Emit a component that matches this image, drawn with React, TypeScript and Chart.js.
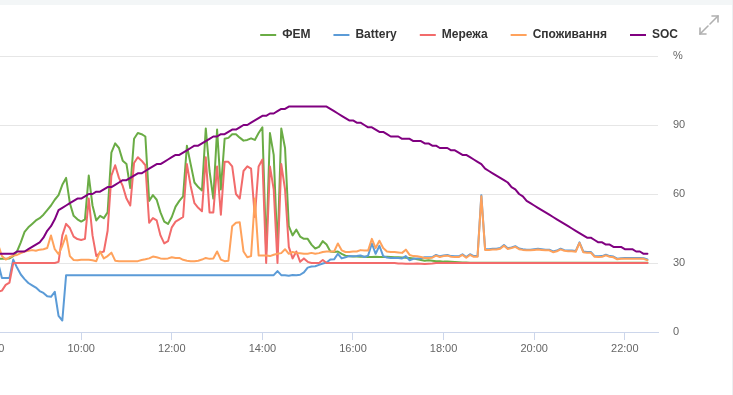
import React, { useEffect, useRef } from 'react';
import { Chart, registerables } from 'chart.js';

Chart.register(...registerables);

// Time axis: minutes after midnight. Samples every 5 min starting 08:10.
const START_MIN = 490;
const STEP_MIN = 5;
const X_MIN = 360;
const X_MAX = 1364;
const X_TICKS = [480, 600, 720, 840, 960, 1080, 1200, 1320];
const Y_MAX = 120;
const Y_STEP = 30;

const PV = [
  31.8, 31.8, 31.8, 32, 33, 35, 39, 43.5, 45.5, 47,
  48.5, 49.5, 51, 53, 55, 57.5, 59.5, 64, 67, 56,
  50.5, 49, 48, 49, 68, 55, 48.5, 50.5, 49.5, 52,
  78, 82, 80, 74.5, 73, 62.6, 84, 86.5, 86, 85,
  57, 59.5, 57.5, 52, 48, 47, 50, 54.5, 57, 59,
  81, 73, 65, 63, 61.5, 88.5, 70, 58, 88, 62,
  84, 84.4, 86, 86, 84.5, 83.2, 83.5, 84.2, 83.5, 86.5,
  89, 35, 86.5, 77, 35, 88.5, 80, 46, 42, 44.5,
  41.5, 40.5, 40.5, 38, 36.3, 37, 39.5, 38, 35, 34.8,
  35, 34, 33.2, 32.9, 32.8, 32.8, 32.7, 32.7, 32.6, 32.6,
  32.7, 32.6, 32.6, 32.7, 32.6, 32.5, 32.5, 32.4, 32.3, 32.2,
  32, 31.6, 31.3, 31, 31.2, 31, 30.8, 30.8, 30.6, 30.6,
  30.5, 30.4, 30.3, 30.2, 30.2, 30.1, 30.1, 30.1, 30.1, 30.1,
  30.1, 30.1, 30.1, 30.1, 30.1, 30.1, 30.1, 30.1, 30.1, 30.1,
  30.1, 30.1, 30.1, 30.1, 30.1, 30.1, 30.1, 30.1, 30.1, 30.1,
  30.1, 30.1, 30.1, 30.1, 30.1, 30.1, 30.1, 30.1, 30.1, 30.1,
  30.1, 30.1, 30.1, 30.1, 30.1, 30.1, 30.1, 30.1, 30.1, 30.1,
  30.1, 30.1, 30.1,
];

const BATTERY = [
  30, 23.5, 23.5, 23.5, 31.5, 28, 25, 23, 21.3, 20.3,
  19.3, 17.8, 17, 15.5, 15.3, 17.5, 7, 5, 24.7, 24.7,
  24.7, 24.7, 24.7, 24.7, 24.7, 24.7, 24.7, 24.7, 24.7, 24.7,
  24.7, 24.7, 24.7, 24.7, 24.7, 24.7, 24.7, 24.7, 24.7, 24.7,
  24.7, 24.7, 24.7, 24.7, 24.7, 24.7, 24.7, 24.7, 24.7, 24.7,
  24.7, 24.7, 24.7, 24.7, 24.7, 24.7, 24.7, 24.7, 24.7, 24.7,
  24.7, 24.7, 24.7, 24.7, 24.7, 24.7, 24.7, 24.7, 24.7, 24.7,
  24.7, 24.7, 24.7, 24.7, 26.5, 24.7, 24.7, 24.5, 24.8, 24.7,
  24.9, 25.9, 28, 28.5, 28.6, 29.2, 29.8, 30.2, 31.5, 31.6,
  34, 32, 32.5, 33, 32.9, 33, 33.3, 32.6, 33.2, 38.5,
  34, 37.5, 33, 32.4, 32.2, 32.2, 32.2, 32, 33, 31.2,
  31.8, 32, 32, 32.5, 32.5, 32.6, 33.5, 32.9, 33.3, 33.5,
  33, 32.9, 32.9, 33.8, 32.6, 33.8, 33, 33, 59.5, 36,
  36, 36.2, 36.2, 36.5, 37.8, 36.4, 36.8, 37.3, 36.3, 36,
  35.8, 35.8, 36, 36.2, 36, 35.8, 35.8, 35, 35.4, 36.2,
  35.6, 35.4, 35.4, 35.2, 39, 35, 34.8, 34.8, 33, 32.9,
  33, 33.6, 33, 32.8, 31.9, 32.1, 32.2, 32.2, 32.2, 32.2,
  32.2, 32.1, 31.5,
];

const GRID = [
  17.5, 18, 20.5, 21.5, 30, 30, 30, 30, 30, 30,
  30, 30, 30, 30, 30, 30, 30.5, 42, 47, 45.2,
  41.5, 40.4, 40, 40.5, 58, 42, 33, 34.5, 35, 44,
  68, 72.5, 67, 63.5, 58, 55, 73.5, 76, 74.5, 72.5,
  47.5, 49.5, 48.5, 42, 38.5, 39.5, 45.5, 48, 49, 50,
  73, 63.5, 56, 54, 52.5, 76, 52, 52, 72, 51,
  74, 74, 72, 60, 58, 70, 72, 71, 50, 72,
  75, 30, 72, 62, 30, 73, 62, 37, 32, 35,
  30.5, 32, 30.5, 30, 30, 30, 31.3, 30, 30, 30,
  30, 30, 30, 30, 30, 30, 30, 30, 30, 30,
  30, 30, 30, 30, 30, 30, 29.8, 29.8, 29.7, 29.7,
  29.7, 29.8, 29.7, 29.6, 29.7, 29.8, 30, 30, 30, 30,
  30, 30, 30, 30, 30, 30, 30, 30, 30, 30,
  30, 30, 30, 30, 30, 30, 30, 30, 30, 30,
  30, 30, 30, 30, 30, 30, 30, 30, 30, 30,
  30, 30, 30, 30, 30, 30, 30, 30, 30, 30,
  30, 30, 30, 30, 30, 30, 30, 30, 30, 30,
  30, 30, 30,
];

const LOAD = [
  38, 33, 31.5, 32.5, 33.2, 33.5, 34.3, 35, 35.3, 35.6,
  35.3, 35.8, 36, 36.5, 42, 36, 33.8, 37.5, 42, 33,
  31.3, 31.2, 31.4, 31.4, 31.4, 31.2, 30.8, 35, 32, 33,
  34.5, 31, 30.8, 30.8, 30.8, 30.8, 30.8, 30.8, 31.3, 31.6,
  32, 32.8, 32.5, 32, 31.8, 32, 32.5, 32.2, 32.2, 31.4,
  31, 30.8, 30.8, 31, 31.5, 32.2, 31.8, 32, 35, 31.5,
  30.8, 31, 46, 47.5, 47.7, 35, 32.5, 33, 58, 33.3,
  33.3, 33.3, 33, 33.6, 34, 34.3, 36, 34, 34.8, 34.4,
  34.2, 34, 34, 34.4, 34, 34.3, 34.8, 35, 35, 35,
  38.5, 35.5, 34.8, 34.8, 35, 35, 35.6, 35.4, 35.4, 40.5,
  36.5, 39.7, 36.5, 35, 34.8, 34.8, 34.6, 34.4, 35.8, 33.5,
  33, 32.9, 32.6, 32.2, 32.2, 32.3, 33.2, 32.6, 33, 33.2,
  32.7, 32.6, 32.6, 33.5, 32.3, 33.5, 32.7, 32.7, 59, 35.7,
  35.7, 35.9, 35.9, 36.2, 37.5, 36.1, 36.5, 37, 36, 35.7,
  35.5, 35.5, 35.7, 35.9, 35.7, 35.5, 35.5, 34.7, 35.1, 35.9,
  35.3, 35.1, 35.1, 34.9, 38.7, 34.7, 34.5, 34.5, 32.7, 32.6,
  32.7, 33.3, 32.7, 32.5, 31.6, 31.8, 31.9, 31.9, 31.9, 31.9,
  31.9, 31.8, 31.2,
];

const SOC = [
  34, 34, 34, 34, 34, 35, 35, 35, 36, 37,
  38, 39, 41, 44, 46, 49, 53, 54, 55, 56,
  57, 58, 58, 59, 60, 60, 61, 61, 62, 63,
  63, 64, 65, 66, 66, 67, 68, 69, 69, 70,
  71, 72, 73, 73, 74, 75, 76, 77, 77, 78,
  79, 80, 81, 81, 82, 83, 84, 85, 85, 86,
  86, 87, 88, 88, 89, 90, 90, 91, 92, 93,
  94, 94, 95, 95, 96, 97, 97, 98, 98, 98,
  98, 98, 98, 98, 98, 98, 98, 98, 97, 96,
  95, 94, 93, 92, 92, 91, 91, 90, 89, 89,
  88, 87, 87, 86, 85, 85, 85, 84, 84, 84,
  83, 83, 83, 82, 82, 81, 81, 80, 80, 80,
  79, 79, 78, 77, 77, 76, 75, 74, 73, 71,
  70, 69, 68, 67, 66, 65, 63, 62, 60, 59,
  57, 56, 55, 54, 53, 52, 51, 50, 49, 48,
  47, 46, 45, 44, 43, 42, 41, 41, 40, 39,
  39, 38, 38, 37, 37, 37, 36, 36, 36, 35,
  35, 34, 34,
];

const SERIES_LABELS = ['ФЕМ', 'Battery', 'Мережа', 'Споживання', 'SOC'];
const SERIES_DATA = [PV, BATTERY, GRID, LOAD, SOC];
const SERIES_COLORS = ['#6aac45', '#5b9bd7', '#f26b6b', '#ffa25c', '#800080'];

const FONT = "'Liberation Sans', Arial, Helvetica, sans-serif";

const fmtTime = (v: number) => {
  const h = Math.floor(v / 60);
  const m = Math.round(v % 60);
  return `${String(h).padStart(2, '0')}:${String(m).padStart(2, '0')}`;
};

export default function App() {
  const ref = useRef<HTMLCanvasElement>(null);

  useEffect(() => {
    if (!ref.current) return;
    const n = SERIES_LABELS.length;
    const datasets = SERIES_LABELS.map((label, idx) => ({
      label,
      data: SERIES_DATA[idx].map((v, i) => ({ x: START_MIN + i * STEP_MIN, y: v })),
      borderColor: SERIES_COLORS[idx],
      backgroundColor: SERIES_COLORS[idx],
      borderWidth: 2,
      pointRadius: 0,
      pointHoverRadius: 0,
      tension: 0,
      fill: false,
      borderJoinStyle: 'round' as const,
      borderCapStyle: 'round' as const,
      order: n - 1 - idx,
    }));

    const legendSpacer = {
      id: 'legendSpacer',
      beforeInit(chart: any) {
        const legend = chart.legend;
        if (!legend) return;
        const orig = legend.fit;
        legend.fit = function () {
          orig.call(this);
          this.height += 5;
          if (this.lineWidths && this.lineWidths.length) this.lineWidths[0] += 32;
        };
      },
    };

    const chart = new Chart(ref.current, {
      type: 'line',
      data: { datasets },
      options: {
        animation: false,
        responsive: false,
        events: [],
        layout: { padding: { top: 6, left: 0, right: 0, bottom: 0 } },
        plugins: {
          legend: {
            position: 'top',
            align: 'end',
            labels: {
              boxWidth: 16,
              boxHeight: 2,
              padding: 23,
              color: '#333333',
              font: { family: FONT, size: 12, weight: 'bold' },
              sort: (a: any, b: any) => a.datasetIndex - b.datasetIndex,
              generateLabels: (c: any) =>
                Chart.defaults.plugins.legend.labels
                  .generateLabels(c)
                  .map((l: any) => ({ ...l, fillStyle: l.strokeStyle, lineWidth: 0 })),
            },
          },
          tooltip: { enabled: false },
        },
        scales: {
          x: {
            type: 'linear',
            min: X_MIN,
            max: X_MAX,
            afterBuildTicks: (s: any) => {
              s.ticks = X_TICKS.map((v) => ({ value: v }));
            },
            afterFit: (s: any) => {
              s.height = 63;
            },
            ticks: {
              autoSkip: false,
              maxRotation: 0,
              padding: 2,
              color: '#666666',
              font: { family: FONT, size: 11 },
              callback: (v: any) => fmtTime(Number(v)),
            },
            grid: {
              drawOnChartArea: false,
              drawTicks: true,
              tickLength: 8,
              tickColor: '#ccd6eb',
            },
            border: { color: '#ccd6eb', width: 1 },
          },
          y: {
            position: 'right',
            min: 0,
            max: Y_MAX,
            afterFit: (s: any) => {
              s.width = 75;
            },
            ticks: {
              stepSize: Y_STEP,
              padding: 15,
              color: '#666666',
              font: { family: FONT, size: 11 },
              callback: (v: any) => (Number(v) === Y_MAX ? '%' : String(v)),
            },
            grid: { color: '#e6e6e6', drawTicks: false },
            border: { display: false },
          },
        },
      },
      plugins: [legendSpacer],
    } as any);

    return () => chart.destroy();
  }, []);

  return (
    <div
      style={{
        position: 'fixed',
        left: 0,
        top: 0,
        width: 733,
        height: 395,
        overflow: 'hidden',
        background: '#ffffff',
      }}
    >
      <div style={{ position: 'absolute', left: -100, top: 0, width: 833, height: 395 }}>
        <canvas ref={ref} width={833} height={395} style={{ display: 'block' }} />
      </div>
      <div
        style={{
          position: 'absolute',
          left: 0,
          top: 0,
          width: 733,
          height: 5,
          background: '#f3f6f7',
        }}
      />
      <div
        style={{
          position: 'absolute',
          right: 0,
          top: 0,
          width: 1,
          height: 395,
          background: '#eceff1',
        }}
      />
      <svg
        width={24}
        height={24}
        viewBox="0 0 24 24"
        style={{ position: 'absolute', left: 697, top: 13 }}
      >
        <g stroke="#b0b0b0" strokeWidth={1.6} fill="none" strokeLinecap="round">
          <path d="M13 11 L21 3" />
          <path d="M15 3 L21 3 L21 9" />
          <path d="M11 13 L3 21" />
          <path d="M3 15 L3 21 L9 21" />
        </g>
      </svg>
    </div>
  );
}
